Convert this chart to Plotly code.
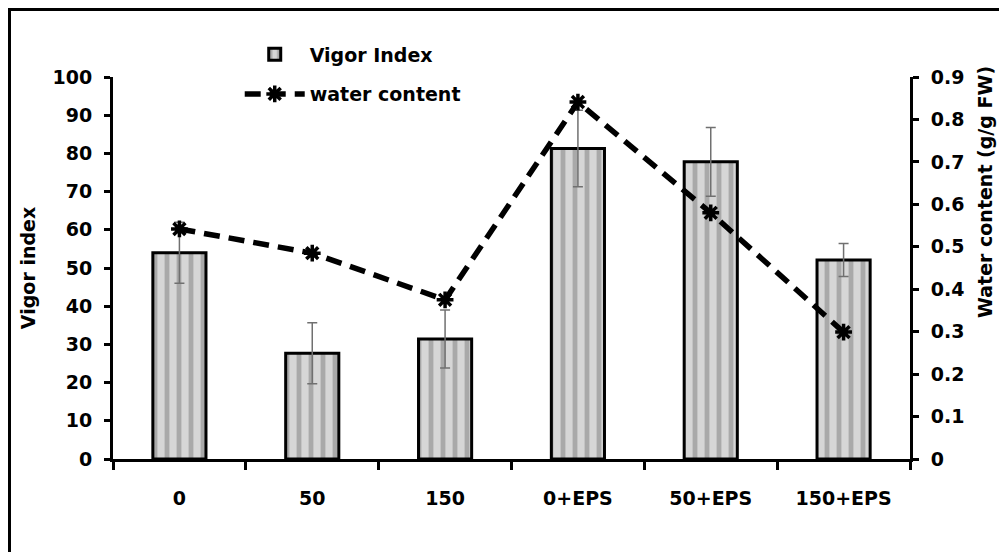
import plotly.graph_objects as go

categories = ["0", "50", "150", "0+EPS", "50+EPS", "150+EPS"]
vigor_index = [54.0, 27.7, 31.4, 81.3, 77.8, 52.1]
vigor_err = [8.0, 8.0, 7.6, 10.0, 9.0, 4.3]
water_content = [0.542, 0.485, 0.375, 0.841, 0.58, 0.299]

FONT = "DejaVu Sans"
fs = 19

# page body has an 8px margin, so the figure starts at (8, 8) on screen
W, H = 999, 544
L, T = 105, 69
PW, PH = 797, 382

fig = go.Figure()
fig.add_trace(go.Bar(
    x=categories, y=vigor_index, name="Vigor Index",
    width=0.40, legendgroup="a",
    marker=dict(
        color="#c8c8c8",
        line=dict(color="black", width=3),
        pattern=dict(shape="|", fgcolor="#7c7c7c", bgcolor="#d6d6d6", size=12, solidity=0.4),
    ),
    error_y=dict(type="data", array=vigor_err, visible=True, color="#707070", thickness=1.5, width=5),
    yaxis="y",
))
fig.add_trace(go.Scatter(
    x=categories, y=water_content, name="water content", legendgroup="b",
    mode="lines+markers",
    line=dict(color="black", width=5.5, dash="16px,9px"),
    marker=dict(symbol="asterisk-open", size=14, color="black", line=dict(color="black", width=3.5)),
    yaxis="y2",
))

fig.update_layout(
    width=W, height=H,
    margin=dict(l=L, r=W - L - PW, t=T, b=H - T - PH),
    paper_bgcolor="white", plot_bgcolor="white",
    font=dict(family=FONT, size=fs, color="black"),
    showlegend=True,
    legend=dict(
        x=0.159, y=1.109, xanchor="left", yanchor="top",
        font=dict(family=FONT, size=fs, color="black", weight="bold"),
        bgcolor="rgba(0,0,0,0)", itemwidth=60,
        traceorder="grouped", tracegroupgap=12,
    ),
    xaxis=dict(
        type="category", showline=True, linecolor="black", linewidth=3,
        ticks="outside", tickson="boundaries", ticklen=8, tickwidth=3, tickcolor="black",
        tickfont=dict(family=FONT, size=fs, weight="bold"),
        ticklabelstandoff=20,
        showgrid=False, zeroline=False,
    ),
    yaxis=dict(
        range=[0, 100], dtick=10, showline=True, linecolor="black", linewidth=3,
        ticks="outside", ticklen=6, tickwidth=3, tickcolor="black",
        tickfont=dict(family=FONT, size=fs, weight="bold"),
        ticklabelstandoff=8,
        showgrid=False, zeroline=False,
        title=dict(text="Vigor index", font=dict(family=FONT, size=fs, weight="bold"), standoff=12),
    ),
    yaxis2=dict(
        range=[0, 0.9], dtick=0.1, overlaying="y", side="right",
        showline=True, linecolor="black", linewidth=3,
        ticks="outside", ticklen=6, tickwidth=3, tickcolor="black",
        tickfont=dict(family=FONT, size=fs, weight="bold"),
        ticklabelstandoff=8,
        showgrid=False, zeroline=False,
    ),
)

fig.add_annotation(
    text="Water content (g/g FW)", textangle=-90,
    xref="paper", yref="paper", x=(977 - L) / PW, y=(T + PH - 184) / PH,
    xanchor="center", yanchor="middle", showarrow=False,
    font=dict(family=FONT, size=fs, weight="bold", color="black"),
)

fig.add_shape(
    type="rect", xref="paper", yref="paper",
    x0=(1.5 - L) / PW, x1=(W + 20 - L) / PW,
    y0=(T + PH - (H + 20)) / PH, y1=(T + PH - 1.5) / PH,
    line=dict(color="black", width=3), fillcolor="rgba(0,0,0,0)", layer="below",
)

fig.write_html("out.html")
